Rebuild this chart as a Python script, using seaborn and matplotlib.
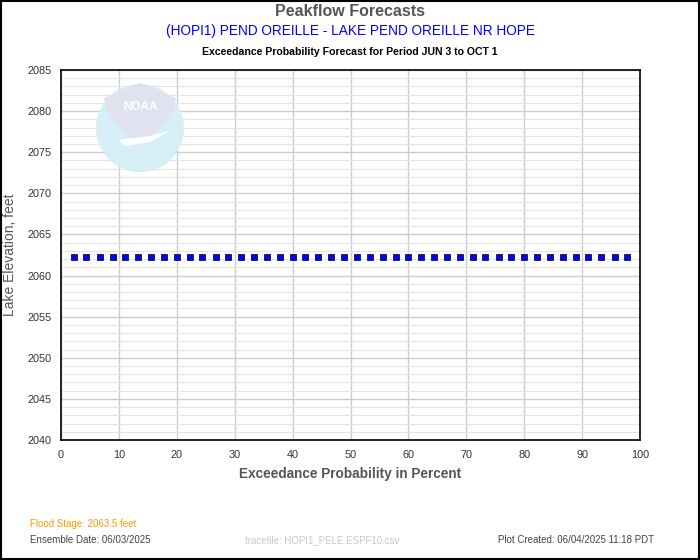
import matplotlib
matplotlib.use("Agg")
import matplotlib.pyplot as plt
import matplotlib.patches as mpatches
import seaborn as sns
import pandas as pd

exceedance = [2.2, 4.4, 6.7, 8.9, 11.1, 13.3, 15.6, 17.8, 20.0, 22.2, 24.4,
              26.7, 28.9, 31.1, 33.3, 35.6, 37.8, 40.0, 42.2, 44.4, 46.7, 48.9,
              51.1, 53.3, 55.6, 57.8, 60.0, 62.2, 64.4, 66.7, 68.9, 71.1, 73.3,
              75.6, 77.8, 80.0, 82.2, 84.4, 86.7, 88.9, 91.1, 93.3, 95.6, 97.8]
elevation = [2062.2] * 44

x_ticks = [0, 10, 20, 30, 40, 50, 60, 70, 80, 90, 100]
y_ticks = [2040, 2045, 2050, 2055, 2060, 2065, 2070, 2075, 2080, 2085]

sns.set_theme(style="white")
plt.rcParams['font.family'] = ['Liberation Sans', 'DejaVu Sans']

fig = plt.figure(figsize=(7, 5.6), dpi=100)
ax = fig.add_axes([61/700, 120/560, 579/700, 370/560])

def fx(px): return px/700
def fy(py): return 1 - py/560

# NOAA logo (faded) in background
cx, cy, r = 140, 128, 44
circle = mpatches.Ellipse((fx(cx), fy(cy)), 2*r/700, 2*r/560, transform=fig.transFigure,
                          facecolor='#d6eef6', edgecolor='none', zorder=0)
fig.patches.append(circle)
top = mpatches.Polygon([(fx(104), fy(98)), (fx(140), fy(83)), (fx(176), fy(98)),
                        (fx(172), fy(112)), (fx(160), fy(128)), (fx(150), fy(138)),
                        (fx(130), fy(138)), (fx(118), fy(126)), (fx(108), fy(112))],
                       closed=True, transform=fig.transFigure,
                       facecolor='#e0e2ef', edgecolor='none', zorder=0)
fig.patches.append(top)
swoosh = mpatches.Polygon([(fx(118), fy(140)), (fx(150), fy(136)), (fx(172), fy(130)),
                           (fx(150), fy(142)), (fx(125), fy(146))],
                          closed=True, transform=fig.transFigure,
                          facecolor='white', edgecolor='none', zorder=0)
fig.patches.append(swoosh)
fig.text(fx(140), fy(107), 'NOAA', color='white', fontsize=8.5, fontweight='bold',
         ha='center', va='center', zorder=1)

ax.set_facecolor('none')
df = pd.DataFrame({'x': exceedance, 'y': elevation})
sns.scatterplot(data=df, x='x', y='y', marker='s', s=20, color='#0000ff',
                edgecolor='black', linewidth=0.5, ax=ax, zorder=5)

ax.set_xlim(0, 100)
ax.set_ylim(2040, 2085)
ax.set_xticks(x_ticks)
ax.set_yticks(y_ticks)
ax.set_yticks(list(range(2040, 2086)), minor=True)
ax.grid(which='major', axis='both', color='#cccccc', linewidth=1.0)
ax.grid(which='minor', axis='y', color='#e4e4e4', linewidth=0.8)
ax.set_axisbelow(True)
for s in ax.spines.values():
    s.set_color('black')
    s.set_linewidth(1.2)
ax.tick_params(axis='both', which='both', length=0, labelsize=7.8, labelcolor='#333333', pad=7)
ax.set_xlabel('Exceedance Probability in Percent', fontsize=9.8, fontweight='bold',
              color='#555555')
ax.xaxis.set_label_coords(0.5, -(467-440)/370)
ax.set_ylabel('Lake Elevation, feet', fontsize=10, color='#555555')
ax.yaxis.set_label_coords(-(61-10)/579, 0.5)
ax.yaxis.label.set_va('center')

fig.text(0.5, fy(12), 'Peakflow Forecasts', ha='center', va='center', fontsize=11.5,
         fontweight='bold', color='#555555')
fig.text(0.5, fy(31), '(HOPI1) PEND OREILLE - LAKE PEND OREILLE NR HOPE', ha='center',
         va='center', fontsize=9.8, color='#0000ff')
fig.text(0.5, fy(52), 'Exceedance Probability Forecast for Period JUN 3 to OCT 1',
         ha='center', va='center', fontsize=7.6, fontweight='bold', color='black')

fig.text(fx(30), fy(524), 'Flood Stage: 2063.5 feet', ha='left', va='center', fontsize=7,
         color='#ff9900')
fig.text(fx(30), fy(540), 'Ensemble Date: 06/03/2025', ha='left', va='center', fontsize=7,
         color='#444444')
fig.text(fx(245), fy(540), 'tracefile: HOPI1_PELE.ESPF10.csv', ha='left', va='center',
         fontsize=7, color='#c8c8c8')
fig.text(fx(498), fy(540), 'Plot Created: 06/04/2025 11:18 PDT', ha='left', va='center',
         fontsize=7, color='#444444')

border = mpatches.Rectangle((0.001, 0.001), 0.998, 0.998, transform=fig.transFigure,
                            facecolor='none', edgecolor='black', linewidth=1.5)
fig.patches.append(border)

fig.savefig('out.png', dpi=100)
